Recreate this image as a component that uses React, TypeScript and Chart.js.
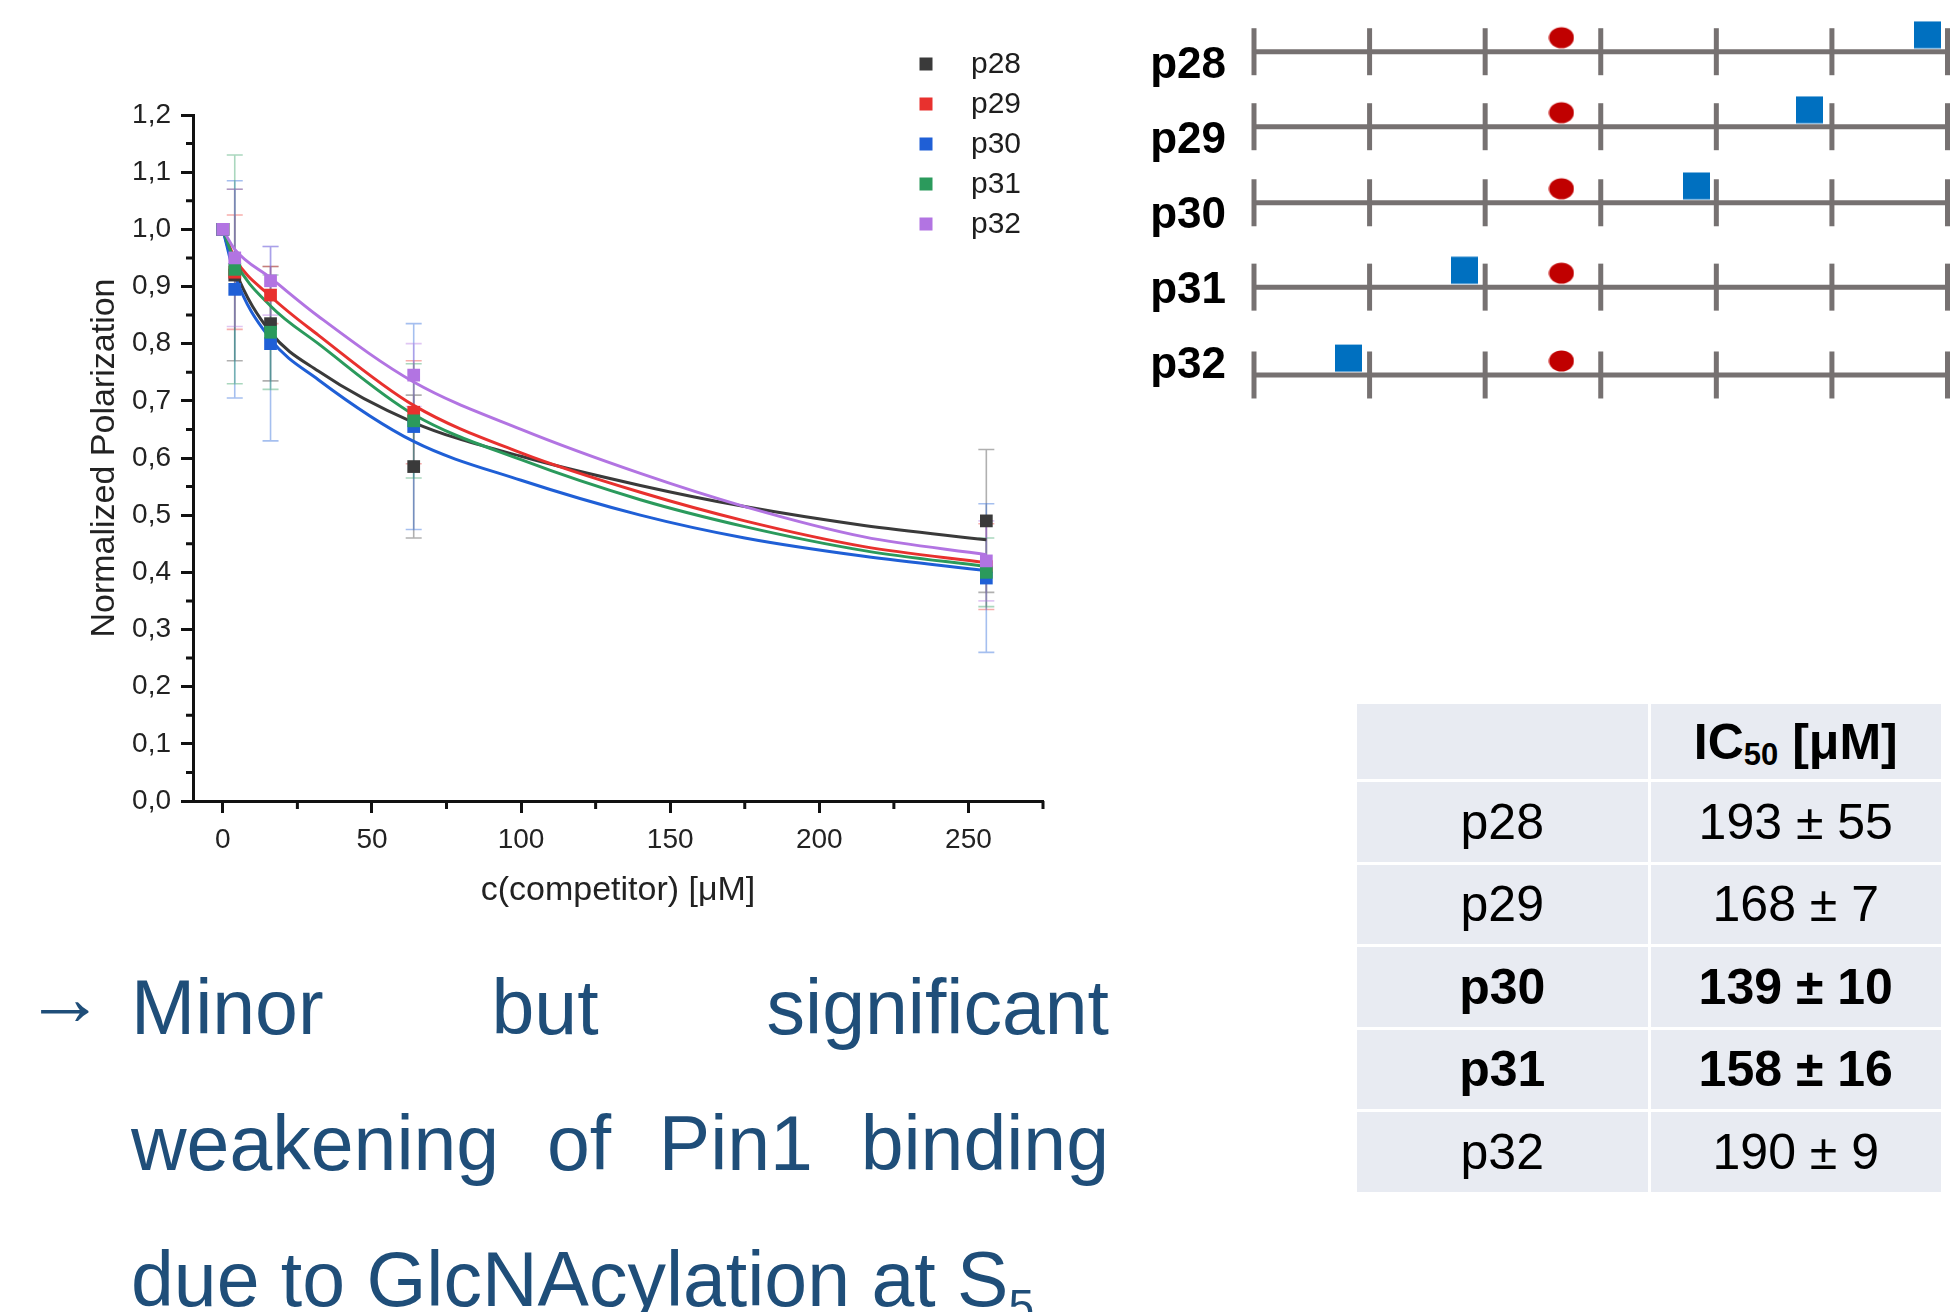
import React, { useEffect, useRef } from 'react';
import { Chart, registerables } from 'chart.js';

Chart.register(...registerables);

const FONT = '"Liberation Sans", Arial, Helvetica, sans-serif';

// ---------- Titration data ----------
const concentrations = [0, 4, 16, 64, 256];
const seriesNames = ['p28', 'p29', 'p30', 'p31', 'p32'];
const seriesColors = ['#3a3a3a', '#e8312e', '#1f5fd6', '#2b9a5c', '#b274e2'];
const p28Values = [1.0, 0.92, 0.835, 0.585, 0.49];
const p29Values = [1.0, 0.925, 0.885, 0.68, 0.41];
const p30Values = [1.0, 0.895, 0.8, 0.655, 0.39];
const p31Values = [1.0, 0.93, 0.82, 0.665, 0.4];
const p32Values = [1.0, 0.95, 0.91, 0.745, 0.42];
const p28Errors = [0, 0.15, 0.1, 0.125, 0.125];
const p29Errors = [0, 0.1, 0.05, 0.09, 0.075];
const p30Errors = [0, 0.19, 0.17, 0.18, 0.13];
const p31Errors = [0, 0.2, 0.1, 0.1, 0.06];
const p32Errors = [0, 0.12, 0.06, 0.055, 0.07];

// fitted curves
const curveX = [0, 4, 16, 32, 64, 100, 140, 175, 215, 256];
const p28Curve = [1.0, 0.93, 0.82, 0.752, 0.662, 0.603, 0.552, 0.515, 0.482, 0.457];
const p29Curve = [1.0, 0.95, 0.883, 0.815, 0.692, 0.609, 0.54, 0.49, 0.445, 0.417];
const p30Curve = [1.0, 0.92, 0.808, 0.737, 0.629, 0.561, 0.5, 0.46, 0.428, 0.403];
const p31Curve = [1.0, 0.945, 0.866, 0.8, 0.676, 0.597, 0.527, 0.48, 0.438, 0.41];
const p32Curve = [1.0, 0.965, 0.915, 0.848, 0.733, 0.65, 0.573, 0.515, 0.462, 0.431];

const xTickValues = [0, 50, 100, 150, 200, 250];
const xMinorTicks = [25, 75, 125, 175, 225, 275];
const yTickValues = [0, 0.1, 0.2, 0.3, 0.4, 0.5, 0.6, 0.7, 0.8, 0.9, 1.0, 1.1, 1.2];
const yMinorTicks = [0.05, 0.15, 0.25, 0.35, 0.45, 0.55, 0.65, 0.75, 0.85, 0.95, 1.05, 1.15];

const allValues = [p28Values, p29Values, p30Values, p31Values, p32Values];
const allErrors = [p28Errors, p29Errors, p30Errors, p31Errors, p32Errors];
const allCurves = [p28Curve, p29Curve, p30Curve, p31Curve, p32Curve];

// ---------- Position diagram ----------
const diagramRows = ['p28', 'p29', 'p30', 'p31', 'p32'];
const diagramRowLevels = [0, 0.928, 1.869, 2.913, 4.0];
const scalePositions = [0, 1, 2, 3, 4, 5, 6];
const referencePositions = [2.66, 2.66, 2.66, 2.66, 2.66];
const peptidePositions = [5.83, 4.81, 3.83, 1.82, 0.82];

// ---------- IC50 table ----------
const ic50Peptides = ['p28', 'p29', 'p30', 'p31', 'p32'];
const ic50Means = [193, 168, 139, 158, 190];
const ic50Errors = [55, 7, 10, 16, 9];
const ic50Bold = [false, false, true, true, false];

function withAlpha(hex: string, a: number) {
  const n = parseInt(hex.slice(1), 16);
  return `rgba(${(n >> 16) & 255},${(n >> 8) & 255},${n & 255},${a})`;
}

const errorBarPlugin = {
  id: 'errorBars',
  beforeDatasetsDraw(chart: any) {
    const { ctx } = chart;
    const xs = chart.scales.x;
    const ys = chart.scales.y;
    chart.data.datasets.forEach((ds: any) => {
      if (!ds.errorBars) return;
      ctx.save();
      ctx.strokeStyle = ds.errorColor;
      ctx.lineWidth = 1.6;
      ds.data.forEach((pt: any, i: number) => {
        const e = ds.errorBars[i];
        if (!e) return;
        const px = xs.getPixelForValue(pt.x);
        const top = ys.getPixelForValue(pt.y + e);
        const bot = ys.getPixelForValue(pt.y - e);
        ctx.beginPath();
        ctx.moveTo(px, top);
        ctx.lineTo(px, bot);
        ctx.moveTo(px - 8, top);
        ctx.lineTo(px + 8, top);
        ctx.moveTo(px - 8, bot);
        ctx.lineTo(px + 8, bot);
        ctx.stroke();
      });
      ctx.restore();
    });
  },
};

const minorTickPlugin = {
  id: 'minorTicks',
  afterDraw(chart: any) {
    const { ctx, chartArea } = chart;
    const xs = chart.scales.x;
    const ys = chart.scales.y;
    ctx.save();
    ctx.strokeStyle = '#111';
    ctx.lineWidth = 3;
    ctx.beginPath();
    xMinorTicks.forEach((v) => {
      const px = xs.getPixelForValue(v);
      ctx.moveTo(px, chartArea.bottom);
      ctx.lineTo(px, chartArea.bottom + 8);
    });
    yMinorTicks.forEach((v) => {
      const py = ys.getPixelForValue(v);
      ctx.moveTo(chartArea.left, py);
      ctx.lineTo(chartArea.left - 7, py);
    });
    ctx.stroke();
    ctx.restore();
  },
};

const insetLegendPlugin = {
  id: 'insetLegend',
  afterDraw(chart: any) {
    const { ctx, chartArea } = chart;
    const items = chart.data.datasets.filter((d: any) => d.legendEntry);
    ctx.save();
    ctx.font = `30px ${FONT}`;
    ctx.textBaseline = 'middle';
    items.forEach((ds: any, i: number) => {
      const cx = chartArea.right - 117;
      const cy = chartArea.top - 51 + i * 40;
      ctx.fillStyle = ds.backgroundColor;
      ctx.fillRect(cx - 6.5, cy - 6.5, 13, 13);
      ctx.fillStyle = '#1e1e1e';
      ctx.fillText(ds.label, cx + 45, cy + 1);
    });
    ctx.restore();
  },
};

function TitrationChart() {
  const ref = useRef<HTMLCanvasElement | null>(null);
  useEffect(() => {
    if (!ref.current) return;
    const curveSets = seriesNames.map((name, s) => ({
      label: name + ' fit',
      data: curveX.map((x, i) => ({ x, y: allCurves[s][i] })),
      showLine: true,
      borderColor: seriesColors[s],
      backgroundColor: seriesColors[s],
      borderWidth: 3,
      pointRadius: 0,
      cubicInterpolationMode: 'monotone',
      order: 10 + (4 - s),
    }));
    const pointSets = seriesNames.map((name, s) => ({
      label: name,
      legendEntry: true,
      data: concentrations.map((x, i) => ({ x, y: allValues[s][i] })),
      errorBars: allErrors[s],
      errorColor: withAlpha(seriesColors[s], 0.4),
      showLine: false,
      pointStyle: 'rect',
      pointRadius: 9,
      pointBorderWidth: 0,
      backgroundColor: seriesColors[s],
      borderColor: seriesColors[s],
      order: 4 - s,
    }));
    const axisFont = { family: FONT, size: 28 };
    const chart = new Chart(ref.current, {
      type: 'scatter',
      data: { datasets: [...pointSets, ...curveSets] as any },
      options: {
        animation: false,
        responsive: false,
        events: [],
        layout: { padding: { left: 0, top: 115, right: 57, bottom: 0 } },
        plugins: { legend: { display: false }, tooltip: { enabled: false } },
        scales: {
          x: {
            type: 'linear',
            min: -10,
            max: 275,
            afterBuildTicks: (scale: any) => {
              scale.ticks = xTickValues.map((v) => ({ value: v }));
            },
            afterFit: (scale: any) => {
              scale.height = 139;
            },
            ticks: {
              font: axisFont,
              color: '#222',
              padding: 10,
              maxRotation: 0,
              autoSkip: false,
              callback: (v: any) => String(v),
            },
            grid: { drawOnChartArea: false, drawTicks: true, tickLength: 12, tickWidth: 3, tickColor: '#111' },
            border: { display: true, width: 3, color: '#111' },
            title: {
              display: true,
              text: 'c(competitor) [μM]',
              font: { family: FONT, size: 34 },
              color: '#222',
              padding: { top: 0, bottom: 29 },
            },
          },
          y: {
            type: 'linear',
            min: 0,
            max: 1.2,
            afterBuildTicks: (scale: any) => {
              scale.ticks = yTickValues.map((v) => ({ value: v }));
            },
            afterFit: (scale: any) => {
              scale.width = 193;
            },
            ticks: {
              font: axisFont,
              color: '#222',
              padding: 10,
              autoSkip: false,
              callback: (v: any) => Number(v).toFixed(1).replace('.', ','),
            },
            grid: { drawOnChartArea: false, drawTicks: true, tickLength: 12, tickWidth: 3, tickColor: '#111' },
            border: { display: true, width: 3, color: '#111' },
            title: {
              display: true,
              text: 'Normalized Polarization',
              font: { family: FONT, size: 34 },
              color: '#222',
              padding: { top: 84, bottom: 0 },
            },
          },
        },
      } as any,
      plugins: [errorBarPlugin, minorTickPlugin, insetLegendPlugin],
    });
    return () => chart.destroy();
  }, []);
  return (
    <canvas
      ref={ref}
      width={1100}
      height={940}
      style={{ position: 'absolute', left: 0, top: 0, width: 1100, height: 940 }}
    />
  );
}

function makeMarker(kind: 'circle' | 'square') {
  const c = document.createElement('canvas');
  if (kind === 'circle') {
    c.width = 26;
    c.height = 56;
    const g = c.getContext('2d')!;
    g.fillStyle = '#c00000';
    g.beginPath();
    g.ellipse(13, 14, 12.5, 10.5, 0, 0, Math.PI * 2);
    g.fill();
  } else {
    c.width = 27;
    c.height = 62;
    const g = c.getContext('2d')!;
    g.fillStyle = '#0070c0';
    g.fillRect(0, 0.6, 27, 27);
  }
  return c;
}

function PositionDiagram() {
  const ref = useRef<HTMLCanvasElement | null>(null);
  useEffect(() => {
    if (!ref.current) return;
    const gray = '#767171';
    const lineSets = diagramRows.map((_, r) => ({
      data: [
        { x: scalePositions[0], y: diagramRowLevels[r] },
        { x: scalePositions[scalePositions.length - 1], y: diagramRowLevels[r] },
      ],
      showLine: true,
      borderColor: gray,
      borderWidth: 5,
      pointRadius: 0,
      clip: false,
      order: 5,
    }));
    const tickSet = {
      data: diagramRows.flatMap((_, r) => scalePositions.map((x) => ({ x, y: diagramRowLevels[r] }))),
      showLine: false,
      pointStyle: 'line',
      pointRotation: 90,
      pointRadius: 23.5,
      pointBorderWidth: 5,
      borderColor: gray,
      backgroundColor: gray,
      clip: false,
      order: 4,
    };
    const refSet = {
      data: diagramRows.map((_, r) => ({ x: referencePositions[r], y: diagramRowLevels[r] })),
      showLine: false,
      pointStyle: makeMarker('circle'),
      pointRadius: 13,
      clip: false,
      order: 1,
    };
    const pepSet = {
      data: diagramRows.map((_, r) => ({ x: peptidePositions[r], y: diagramRowLevels[r] })),
      showLine: false,
      pointStyle: makeMarker('square'),
      pointRadius: 14,
      clip: false,
      order: 0,
    };
    const chart = new Chart(ref.current, {
      type: 'scatter',
      data: { datasets: [...lineSets, tickSet, refSet, pepSet] as any },
      options: {
        animation: false,
        responsive: false,
        events: [],
        layout: { autoPadding: false, padding: { left: 124, right: 12.5, top: 11.3, bottom: 4.6 } },
        plugins: { legend: { display: false }, tooltip: { enabled: false } },
        scales: {
          x: { type: 'linear', min: 0, max: 6, display: false },
          y: { type: 'linear', min: -0.5, max: 4.5, reverse: true, display: false },
        },
      } as any,
    });
    return () => chart.destroy();
  }, []);
  return (
    <>
      <canvas
        ref={ref}
        width={830}
        height={420}
        style={{ position: 'absolute', left: 1130, top: 0, width: 830, height: 420 }}
      />
      {diagramRows.map((name, i) => (
        <div
          key={name}
          style={{
            position: 'absolute',
            right: 1960 - 1226,
            top: 78 + i * 75 - 37.3,
            fontFamily: FONT,
            fontWeight: 'bold',
            fontSize: 44,
            lineHeight: '44px',
            color: '#000',
            whiteSpace: 'nowrap',
          }}
        >
          {name}
        </div>
      ))}
    </>
  );
}

function IC50Table() {
  const cell = (bold: boolean): React.CSSProperties => ({
    background: '#e8ebf2',
    display: 'flex',
    alignItems: 'center',
    justifyContent: 'center',
    fontFamily: FONT,
    fontSize: 50,
    fontWeight: bold ? 'bold' : 'normal',
    color: '#000',
    whiteSpace: 'nowrap',
  });
  return (
    <div
      style={{
        position: 'absolute',
        left: 1357,
        top: 704,
        width: 584,
        display: 'grid',
        gridTemplateColumns: '290.5px 290.5px',
        gridTemplateRows: '75px repeat(5, 79.5px)',
        gap: 3,
        background: '#fff',
      }}
    >
      <div style={cell(true)} />
      <div style={cell(true)}>
        <span>
          IC
          <span style={{ fontSize: '0.62em', position: 'relative', top: '0.22em', lineHeight: 0 }}>50</span>
          {' [μM]'}
        </span>
      </div>
      {ic50Peptides.map((p, i) => (
        <React.Fragment key={p}>
          <div style={cell(ic50Bold[i])}>{p}</div>
          <div style={cell(ic50Bold[i])}>{`${ic50Means[i]} ± ${ic50Errors[i]}`}</div>
        </React.Fragment>
      ))}
    </div>
  );
}

function Conclusion() {
  const color = '#1f4e79';
  return (
    <>
      <div
        style={{
          position: 'absolute',
          left: 25,
          top: 958,
          fontFamily: FONT,
          fontSize: 80,
          lineHeight: '80px',
          color,
        }}
      >
        →
      </div>
      <div
        style={{
          position: 'absolute',
          left: 131,
          top: 939,
          width: 978,
          fontFamily: FONT,
          fontSize: 77,
          lineHeight: '136px',
          textAlign: 'justify',
          color,
        }}
      >
        Minor but significant weakening of Pin1 binding due to GlcNAcylation at S
        <span style={{ fontSize: '0.6em', position: 'relative', top: '0.35em', lineHeight: 0 }}>5</span>
      </div>
    </>
  );
}

export default function App() {
  useEffect(() => {
    document.body.style.margin = '0';
    document.body.style.overflow = 'hidden';
  }, []);
  return (
    <div
      style={{
        position: 'absolute',
        left: 0,
        top: 0,
        width: 1960,
        height: 1312,
        background: '#fff',
        overflow: 'hidden',
      }}
    >
      <TitrationChart />
      <PositionDiagram />
      <IC50Table />
      <Conclusion />
    </div>
  );
}
